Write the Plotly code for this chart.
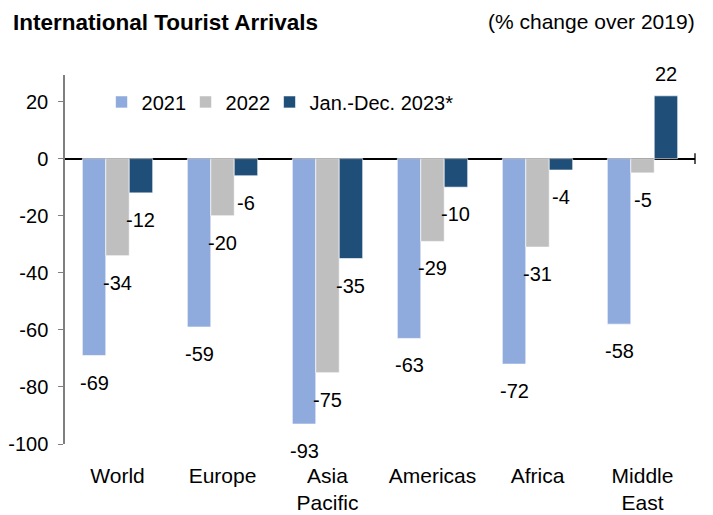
import plotly.graph_objects as go

# Regions and the change in international arrivals versus 2019 (%)
regions = ["World", "Europe", "Asia<br>Pacific", "Americas", "Africa", "Middle<br>East"]
series_names = ["2021", "2022", "Jan.-Dec. 2023*"]
vals_2021 = [-69, -59, -93, -63, -72, -58]
vals_2022 = [-34, -20, -75, -29, -31, -5]
vals_2023 = [-12, -6, -35, -10, -4, 22]
colors = ["#8FAADC", "#BFBFBF", "#1F4E79"]
legend_widths = [39, 39, 160]
y_ticks = [20, 0, -20, -40, -60, -80, -100]
y_tick_text = ["20", "0", "-20", "-40", "-60", "-80", "-100"]

FONT = "Liberation Sans, Arial, sans-serif"
W, H = 713, 515
M_L, M_R, M_T, M_B = 65, 18, 75, 71
BARGAP = 0.33

series = [vals_2021, vals_2022, vals_2023]

fig = go.Figure()
for name, vals, col, lw in zip(series_names, series, colors, legend_widths):
    fig.add_trace(go.Bar(
        x=regions, y=vals, name=name, legendwidth=lw,
        marker=dict(color=col, line=dict(color="rgba(255,255,255,0.6)", width=1)),
    ))

# value labels just beyond each bar end
cat_px = (W - M_L - M_R) / len(regions)
bar_px = cat_px * (1 - BARGAP) / len(series)
for k, vals in enumerate(series):
    offset = (k - 1) * bar_px
    for reg, v in zip(regions, vals):
        fig.add_annotation(
            x=reg, y=v, text=str(v), showarrow=False,
            xshift=offset, yshift=22 if v > 0 else -27,
            font=dict(family=FONT, size=20, color="#000000"),
        )

# header on the right
fig.add_annotation(
    xref="paper", yref="paper", x=1.0, y=1.0, xanchor="right", yanchor="middle",
    text="(% change over 2019)", showarrow=False, xshift=2, yshift=M_T - 21,
    font=dict(family=FONT, size=21, color="#000000"),
)

# small end tick at the right of the zero line
fig.add_shape(type="line", xref="paper", yref="y", x0=1, x1=1, y0=-1.9, y1=1.9,
              line=dict(color="#000000", width=1.3))

fig.update_layout(
    width=W, height=H,
    margin=dict(l=M_L, r=M_R, t=M_T, b=M_B, autoexpand=False),
    paper_bgcolor="white", plot_bgcolor="white",
    barmode="group", bargap=BARGAP, bargroupgap=0,
    title=dict(text="<b>International Tourist Arrivals</b>", x=13 / W, xanchor="left",
               y=1 - 22 / H, yanchor="middle",
               font=dict(family=FONT, size=22.5, color="#000000")),
    font=dict(family=FONT, size=20, color="#000000"),
    showlegend=True,
    legend=dict(orientation="h", x=0.058, xanchor="left", y=0.927, yanchor="middle",
                bgcolor="rgba(0,0,0,0)", font=dict(family=FONT, size=20, color="#000000"),
                traceorder="normal", itemwidth=30),
    xaxis=dict(showline=False, showgrid=False, ticks="", tickfont=dict(size=21),
               ticklabelstandoff=17, automargin=False),
    yaxis=dict(range=[-100, 29.3], tickvals=y_ticks, ticktext=y_tick_text, showgrid=False,
               showline=True, linecolor="#7F7F7F", linewidth=1.5,
               ticks="outside", ticklen=5, tickcolor="#7F7F7F", tickwidth=1.3,
               ticklabelstandoff=6, tickfont=dict(size=20), automargin=False,
               zeroline=True, zerolinecolor="#000000", zerolinewidth=1.5),
)

fig.write_html("out.html")
